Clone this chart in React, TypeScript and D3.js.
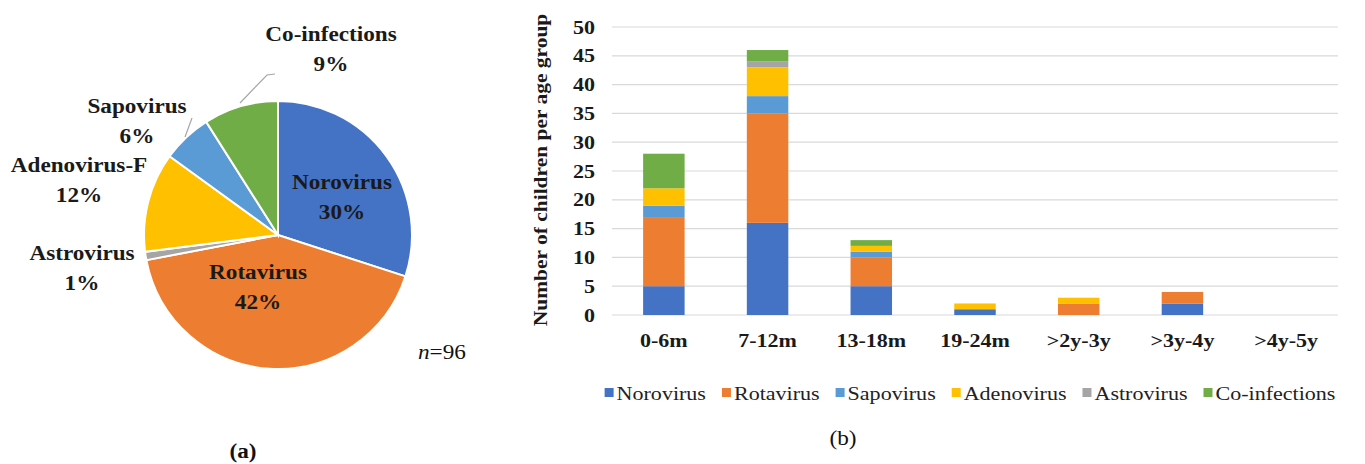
import React, { useEffect, useRef } from "react";
import * as d3 from "d3";

// ---- Data ----
const pieLabels = ["Norovirus", "Rotavirus", "Astrovirus", "Adenovirus-F", "Sapovirus", "Co-infections"];
const pieShares = [30, 42, 1, 12, 6, 9];
const pieColors = ["#4472C4", "#ED7D31", "#A5A5A5", "#FFC000", "#5B9BD5", "#70AD47"];

const categories = ["0-6m", "7-12m", "13-18m", "19-24m", ">2y-3y", ">3y-4y", ">4y-5y"];
const seriesNames = ["Norovirus", "Rotavirus", "Sapovirus", "Adenovirus", "Astrovirus", "Co-infections"];
const norovirus = [5, 16, 5, 1, 0, 2, 0];
const rotavirus = [12, 19, 5, 0, 2, 2, 0];
const sapovirus = [2, 3, 1, 0, 0, 0, 0];
const adenovirus = [3, 5, 1, 1, 1, 0, 0];
const astrovirus = [0, 1, 0, 0, 0, 0, 0];
const coinfections = [6, 2, 1, 0, 0, 0, 0];
const seriesColors = ["#4472C4", "#ED7D31", "#5B9BD5", "#FFC000", "#A5A5A5", "#70AD47"];
const yTicks = [0, 5, 10, 15, 20, 25, 30, 35, 40, 45, 50];

const FONT = "'Liberation Serif', 'Times New Roman', serif";
const SX = 1.16;

export default function App() {
  const ref = useRef<SVGSVGElement | null>(null);

  useEffect(() => {
    const svg = d3.select(ref.current);
    svg.selectAll("*").remove();

    const addText = (
      parent: any, x: number, y: number, str: string,
      o: { size?: number; weight?: string; anchor?: string; fill?: string; rotate?: number; italicPrefix?: string; sx?: number } = {}
    ) => {
      const t = parent.append("text")
        .attr("transform", `translate(${x},${y})${o.rotate ? ` rotate(${o.rotate})` : ""} scale(${o.sx || SX},1)`)
        .attr("dy", "0.35em")
        .attr("text-anchor", o.anchor || "start")
        .attr("font-family", FONT)
        .attr("font-weight", o.weight || "normal")
        .attr("font-size", o.size || 19)
        .attr("fill", o.fill || "#1a1a1a");
      if (o.italicPrefix) t.append("tspan").attr("font-style", "italic").text(o.italicPrefix);
      t.append("tspan").text(str);
      return t;
    };

    // ---------- PIE ----------
    const cx = 278, cy = 235, r = 134;
    const pg = svg.append("g").attr("transform", `translate(${cx},${cy})`);
    const pie = d3.pie<number>().sort(null).value((d) => d);
    const arcs = pie(pieShares);
    const arc = d3.arc<d3.PieArcDatum<number>>().innerRadius(0).outerRadius(r);
    pg.selectAll("path.slice")
      .data(arcs)
      .join("path")
      .attr("class", "slice")
      .attr("d", arc)
      .attr("fill", (_, i) => pieColors[i])
      .attr("stroke", "#fff")
      .attr("stroke-width", 2);

    // label offsets relative to pie center (Excel best-fit placement)
    const labelPos: Record<string, [number, number]> = {
      "Norovirus": [64, -53],
      "Rotavirus": [-20, 37],
      "Astrovirus": [-196, 18],
      "Adenovirus-F": [-199, -70],
      "Sapovirus": [-141, -129],
      "Co-infections": [53, -201],
    };
    arcs.forEach((_, i) => {
      const name = pieLabels[i];
      const [dx, dy] = labelPos[name];
      addText(pg, dx, dy, name, { size: 20, weight: "bold", anchor: "middle" });
      addText(pg, dx, dy + 30, `${pieShares[i]}%`, { size: 20, weight: "bold", anchor: "middle" });
    });

    // leader lines
    const leader = d3.line();
    pg.append("path")
      .attr("d", leader([[-93, -98], [-86, -117]]))
      .attr("stroke", "#a6a6a6").attr("fill", "none").attr("stroke-width", 1.2);
    pg.append("path")
      .attr("d", leader([[-38, -132], [-11, -160], [-3, -161]]))
      .attr("stroke", "#a6a6a6").attr("fill", "none").attr("stroke-width", 1.2);

    addText(svg, 418, 352, "=96", { size: 20, italicPrefix: "n", fill: "#111" });
    addText(svg, 243, 451, "(a)", { size: 20, weight: "bold", anchor: "middle", fill: "#111" });

    // ---------- BAR ----------
    const left = 612, right = 1338, top = 27, bottom = 315;
    const x = d3.scaleBand().domain(categories).range([left, right]).paddingInner(0.6).paddingOuter(0.3);
    const y = d3.scaleLinear().domain([0, 50]).range([bottom, top]);

    const bg = svg.append("g");
    bg.selectAll("line.grid")
      .data(yTicks)
      .join("line")
      .attr("x1", left).attr("x2", right)
      .attr("y1", (d) => y(d)).attr("y2", (d) => y(d))
      .attr("stroke", "#d9d9d9").attr("stroke-width", 1.2);

    yTicks.forEach((d) => addText(bg, 595, y(d), String(d), { size: 19, weight: "bold", anchor: "end" }));

    const seriesData = [norovirus, rotavirus, sapovirus, adenovirus, astrovirus, coinfections];
    const rows = categories.map((c, i) => {
      const o: Record<string, number | string> = { cat: c };
      seriesNames.forEach((s, k) => (o[s] = seriesData[k][i]));
      return o;
    });
    const stacked = d3.stack<Record<string, number | string>>().keys(seriesNames)(rows as any);
    stacked.forEach((layer, k) => {
      bg.append("g")
        .selectAll("rect")
        .data(layer)
        .join("rect")
        .attr("x", (d: any) => x(d.data.cat as string)!)
        .attr("width", x.bandwidth())
        .attr("y", (d: any) => y(d[1]))
        .attr("height", (d: any) => y(d[0]) - y(d[1]))
        .attr("fill", seriesColors[k]);
    });

    categories.forEach((c) =>
      addText(bg, x(c)! + x.bandwidth() / 2, 340, c, { size: 19, weight: "bold", anchor: "middle" })
    );

    addText(svg, 540, 170, "Number of children per age group", { size: 19, weight: "bold", anchor: "middle", rotate: -90, sx: 1.13 });

    // legend
    const lg = svg.append("g");
    const items = seriesNames.map((s, k) => {
      const g = lg.append("g");
      g.append("rect").attr("x", 0).attr("y", -5).attr("width", 9).attr("height", 9).attr("fill", seriesColors[k]);
      const t = addText(g, 12, 0, s, { size: 19, fill: "#222" });
      const w = 12 + (t.node() as SVGTextElement).getComputedTextLength() * SX;
      return { g, w };
    });
    const gap = 16;
    const total = items.reduce((acc, it) => acc + it.w, 0) + gap * (items.length - 1);
    let lx = 970 - total / 2;
    items.forEach((it) => {
      it.g.attr("transform", `translate(${lx},393)`);
      lx += it.w + gap;
    });

    addText(svg, 843, 438, "(b)", { size: 20, anchor: "middle", fill: "#111" });
  }, []);

  return (
    <div style={{ position: "absolute", left: 0, top: 0 }}>
      <svg ref={ref} width={1365} height={464} style={{ display: "block", background: "#fff" }} />
    </div>
  );
}
